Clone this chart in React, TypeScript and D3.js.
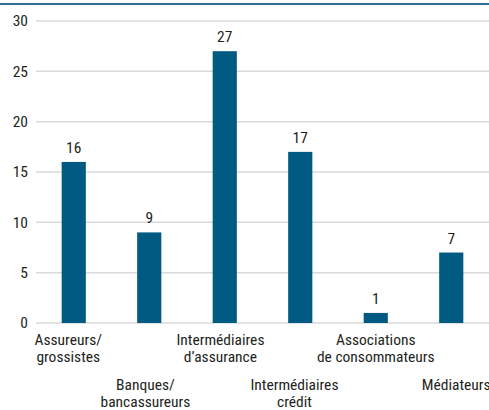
import React from "react";
import * as d3 from "d3";

const categories = [
  ["Assureurs/", "grossistes"],
  ["Banques/", "bancassureurs"],
  ["Intermédiaires", "d’assurance"],
  ["Intermédiaires", "crédit"],
  ["Associations", "de consommateurs"],
  ["Médiateurs"],
];
const values = [16, 9, 27, 17, 1, 7];
const yTicks = [0, 5, 10, 15, 20, 25, 30];

const W = 489;
const H = 410;
const FONT = "'Roboto Condensed', sans-serif";
// small horizontal nudges of the category labels, as in the source layout
const labelShift = [-5.5, -3.8, -4.3, -5.8, 0, 5];

export default function App() {
  const x = d3
    .scaleBand<number>()
    .domain(values.map((_, i) => i))
    .range([36, 489])
    .paddingInner(0.68)
    .paddingOuter(0.34);
  const y = d3.scaleLinear().domain([0, 30]).range([323, 21]);

  return (
    <svg
      width={W}
      height={H}
      style={{ position: "absolute", left: 0, top: 0, fontFamily: FONT }}
    >
      <rect x={0} y={0} width={W} height={H} fill="#fff" />
      <line x1={0} x2={W} y1={4} y2={4} stroke="#2f6f95" strokeWidth={2} />
      {yTicks.map((t) => (
        <g key={t}>
          <line x1={36} x2={W} y1={y(t)} y2={y(t)} stroke="#d9d9d9" strokeWidth={1.5} />
          <text x={28} y={y(t)} dy="0.35em" textAnchor="end" fontSize={15.5} fill="#231f20">
            {t}
          </text>
        </g>
      ))}
      {values.map((v, i) => {
        const bx = x(i)!;
        const cx = bx + x.bandwidth() / 2;
        return (
          <g key={i}>
            <rect x={bx} y={y(v)} width={x.bandwidth()} height={y(0) - y(v)} fill="#005a82" />
            <text x={cx} y={y(v) - 9} textAnchor="middle" fontSize={15.5} fill="#231f20">
              {v}
            </text>
          </g>
        );
      })}
      {categories.map((lines, i) => {
        const cx = x(i)! + x.bandwidth() / 2 + labelShift[i];
        const base = i % 2 === 0 ? 345 : 390;
        return (
          <text key={i} textAnchor="middle" fontSize={15.5} fill="#231f20">
            {lines.map((l, j) => (
              <tspan key={j} x={cx} y={base + j * 16.5}>
                {l}
              </tspan>
            ))}
          </text>
        );
      })}
    </svg>
  );
}
